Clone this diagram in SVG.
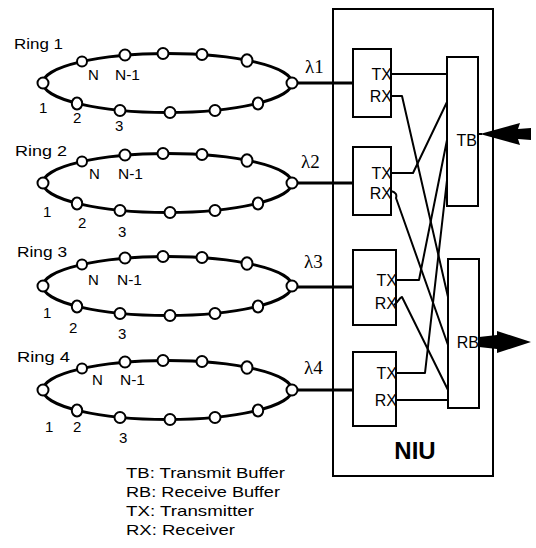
<svg xmlns="http://www.w3.org/2000/svg" width="536" height="548" viewBox="0 0 536 548">
<style>
.t{font-family:"Liberation Sans",Arial,sans-serif;fill:#000}
.s{font-size:15px}
.p{font-size:16px}
.lam{font-family:"Liberation Serif","Times New Roman",serif;font-size:19px;fill:#000}
.ring{fill:none;stroke:#000;stroke-width:3}
.nd{fill:#fff;stroke:#000;stroke-width:2}
.box{fill:#fff;stroke:#000;stroke-width:2}
.ln{fill:none;stroke:#000;stroke-width:2;stroke-linejoin:round}
.fib{fill:none;stroke:#000;stroke-width:3.2}
</style>
<defs>
<g id="ringShape">
<ellipse class="ring" cx="167.5" cy="0" rx="124.5" ry="29.5"/>
<circle class="nd" cx="43" cy="0" r="5.5"/>
<circle class="nd" cx="82" cy="-21.5" r="5"/>
<circle class="nd" cx="125" cy="-28" r="5.5"/>
<circle class="nd" cx="163" cy="-29.5" r="5.5"/>
<circle class="nd" cx="202" cy="-28.5" r="5.5"/>
<ellipse class="nd" cx="247" cy="-22.5" rx="5.5" ry="6.3"/>
<circle class="nd" cx="292" cy="0" r="5.5"/>
<ellipse class="nd" cx="258" cy="20.5" rx="5.2" ry="6"/>
<circle class="nd" cx="215" cy="27.5" r="5.5"/>
<circle class="nd" cx="170" cy="29.5" r="5.5"/>
<circle class="nd" cx="120" cy="27.5" r="5.5"/>
<ellipse class="nd" cx="77" cy="20.5" rx="5.2" ry="6"/>
</g>
</defs>

<g id="niu">
<rect x="333" y="9" width="160" height="467" fill="none" stroke="#000" stroke-width="2"/>
<text class="t" x="415" y="459" font-size="24" font-weight="bold" text-anchor="middle">NIU</text>
</g>

<g id="ring1">
<use href="#ringShape" y="83"/>
<text class="t s" x="14" y="49" textLength="49" lengthAdjust="spacingAndGlyphs">Ring 1</text>
<text class="t s" x="88" y="80">N</text>
<text class="t s" x="115" y="80" textLength="25" lengthAdjust="spacingAndGlyphs">N-1</text>
<text class="t s" x="39" y="113">1</text>
<text class="t s" x="73" y="123">2</text>
<text class="t s" x="115" y="131">3</text>
<text class="lam" x="305" y="73">λ1</text>
</g>
<g id="ring2">
<use href="#ringShape" y="183"/>
<text class="t s" x="15" y="156" textLength="52" lengthAdjust="spacingAndGlyphs">Ring 2</text>
<text class="t s" x="89" y="179">N</text>
<text class="t s" x="118" y="179" textLength="25" lengthAdjust="spacingAndGlyphs">N-1</text>
<text class="t s" x="43" y="217">1</text>
<text class="t s" x="78" y="228">2</text>
<text class="t s" x="118" y="237">3</text>
<text class="lam" x="301" y="168">λ2</text>
</g>
<g id="ring3">
<use href="#ringShape" y="286"/>
<text class="t s" x="17" y="257" textLength="50" lengthAdjust="spacingAndGlyphs">Ring 3</text>
<text class="t s" x="88" y="285">N</text>
<text class="t s" x="117" y="285" textLength="25" lengthAdjust="spacingAndGlyphs">N-1</text>
<text class="t s" x="43" y="318">1</text>
<text class="t s" x="69" y="333">2</text>
<text class="t s" x="118" y="339">3</text>
<text class="lam" x="304" y="268">λ3</text>
</g>
<g id="ring4">
<use href="#ringShape" y="390"/>
<text class="t s" x="17" y="362" textLength="53" lengthAdjust="spacingAndGlyphs">Ring 4</text>
<text class="t s" x="92" y="385">N</text>
<text class="t s" x="120" y="385" textLength="25" lengthAdjust="spacingAndGlyphs">N-1</text>
<text class="t s" x="45" y="432">1</text>
<text class="t s" x="73" y="432">2</text>
<text class="t s" x="119" y="443">3</text>
<text class="lam" x="304" y="374">λ4</text>
</g>

<g id="trx1">
<rect class="box" x="353" y="49" width="38" height="68"/>
<text class="t p" x="392" y="80" text-anchor="end">TX</text>
<text class="t p" x="392" y="102" text-anchor="end">RX</text>
</g>
<g id="trx2">
<rect class="box" x="353" y="147" width="38" height="68"/>
<text class="t p" x="392" y="179" text-anchor="end">TX</text>
<text class="t p" x="392" y="199" text-anchor="end">RX</text>
</g>
<g id="trx3">
<rect class="box" x="353" y="250" width="43" height="75"/>
<text class="t p" x="397" y="286" text-anchor="end">TX</text>
<text class="t p" x="397" y="309" text-anchor="end">RX</text>
</g>
<g id="trx4">
<rect class="box" x="353" y="352" width="43" height="74"/>
<text class="t p" x="397" y="379" text-anchor="end">TX</text>
<text class="t p" x="397" y="406" text-anchor="end">RX</text>
</g>

<g id="connectors">
<line class="fib" x1="297" y1="83" x2="353" y2="83"/>
<line class="fib" x1="297" y1="183" x2="353" y2="183"/>
<line class="fib" x1="297" y1="287" x2="353" y2="287"/>
<line class="fib" x1="297" y1="390" x2="353" y2="390"/>
<polyline class="ln" points="391,74 447,74"/>
<polyline class="ln" points="391,173 413,173 447,102"/>
<polyline class="ln" points="396,280 419,280 447,140"/>
<polyline class="ln" points="396,373 425,373 447,180"/>
<polyline class="ln" points="391,96 402,96 448,297"/>
<path class="ln" d="M391,191 C396,192 397,195 396,198 L448,345"/>
<path class="ln" d="M394,305 C398,302 399,298 402,297 L448,390"/>
<polyline class="ln" points="396,400 448,400"/>
<line class="ln" x1="478" y1="134" x2="482" y2="134"/>
<polygon points="480,134 520,123 518,129 531,128 531,140 518,139 520,145" fill="#000"/>
<polygon points="479,337 497,335 497,331 531,342 497,353 497,349 479,347" fill="#000"/>
</g>

<g id="tb">
<rect class="box" x="447" y="57" width="31" height="149"/>
<text class="t p" x="477" y="146" text-anchor="end">TB</text>
</g>
<g id="rb">
<rect class="box" x="448" y="259" width="31" height="149"/>
<text class="t p" x="479" y="348" text-anchor="end">RB</text>
</g>

<g id="legend">
<text class="t s" x="126" y="478" textLength="159" lengthAdjust="spacingAndGlyphs">TB: Transmit Buffer</text>
<text class="t s" x="126" y="497" textLength="154" lengthAdjust="spacingAndGlyphs">RB: Receive Buffer</text>
<text class="t s" x="126" y="516" textLength="128" lengthAdjust="spacingAndGlyphs">TX: Transmitter</text>
<text class="t s" x="126" y="535" textLength="109" lengthAdjust="spacingAndGlyphs">RX: Receiver</text>
</g>
</svg>
